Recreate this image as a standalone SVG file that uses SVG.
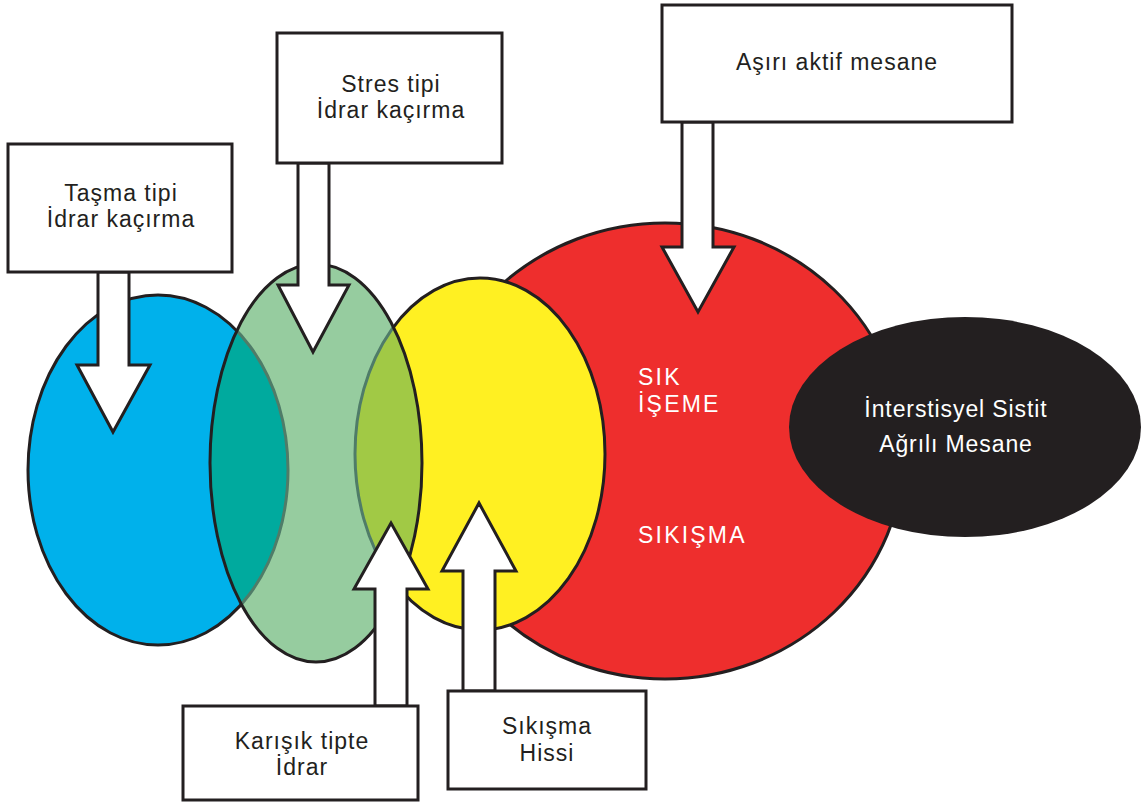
<svg xmlns="http://www.w3.org/2000/svg" width="1141" height="802" viewBox="0 0 1141 802">
<style>
.ol{stroke:#231f20;stroke-width:3}
.box{fill:#fff;stroke:#231f20;stroke-width:3}
.arr{fill:#fff;stroke:#231f20;stroke-width:3;stroke-linejoin:miter}
.t{font-family:"Liberation Sans",Arial,sans-serif;font-size:23px;letter-spacing:1px;fill:#231f20;text-anchor:middle}
.w{font-family:"Liberation Sans",Arial,sans-serif;font-size:23px;letter-spacing:2.2px;fill:#fff}
.wc{font-family:"Liberation Sans",Arial,sans-serif;font-size:23px;letter-spacing:0.9px;fill:#fff;text-anchor:middle}
.inner{fill:none;stroke:#4f7c68;stroke-width:3}
</style>
<defs>
<clipPath id="cg"><ellipse cx="316" cy="463" rx="106" ry="199"/></clipPath>
</defs>
<g id="red"><ellipse class="ol" cx="665" cy="451" rx="239" ry="228" fill="#ee2e2d"/>
<text class="w" x="638" y="385">SIK</text>
<text class="w" x="638" y="412">İŞEME</text>
<text class="w" x="638" y="543">SIKIŞMA</text>
</g>
<g id="ic"><ellipse cx="965" cy="427" rx="176" ry="110" fill="#231f20"/>
<text class="wc" x="956" y="417">İnterstisyel Sistit</text>
<text class="wc" x="956" y="452">Ağrılı Mesane</text>
</g>
<g id="blue"><ellipse class="ol" cx="158" cy="470" rx="130" ry="175" fill="#00b1eb"/></g>
<g id="yellow"><ellipse class="ol" cx="480" cy="454" rx="125" ry="176" fill="#fff022"/></g>
<g id="green">
<ellipse cx="316" cy="463" rx="106" ry="199" fill="#96cc9f"/>
<g clip-path="url(#cg)">
<ellipse cx="158" cy="470" rx="130" ry="175" fill="#00aa9e"/>
<ellipse cx="480" cy="454" rx="125" ry="176" fill="#a1c945"/>
<ellipse class="inner" cx="158" cy="470" rx="130" ry="175"/>
<ellipse class="inner" cx="480" cy="454" rx="125" ry="176"/>
</g>
<ellipse cx="316" cy="463" rx="106" ry="199" fill="none" class="ol"/>
</g>
<g id="connectors">
<polygon class="arr" points="98,272 129,272 129,365 150,365 113,432 77,365 98,365"/>
<polygon class="arr" points="298,163 329,163 329,285 349,285 313,352 278,285 298,285"/>
<polygon class="arr" points="682,122 713,122 713,247 734,247 698,312 662,247 682,247"/>
<polygon class="arr" points="375,706 407,706 407,589 428,589 391,523 354,589 375,589"/>
<polygon class="arr" points="463,691 495,691 495,571 516,571 479,503 442,571 463,571"/>
</g>
<g id="b-tasma"><rect class="box" x="8" y="144" width="224" height="128"/>
<text class="t" x="121" y="201">Taşma tipi</text>
<text class="t" x="121" y="227">İdrar kaçırma</text></g>
<g id="b-stres"><rect class="box" x="277" y="33" width="225" height="130"/>
<text class="t" x="391" y="92">Stres tipi</text>
<text class="t" x="391" y="118">İdrar kaçırma</text></g>
<g id="b-asiri"><rect class="box" x="662" y="5" width="350" height="117"/>
<text class="t" x="837" y="70">Aşırı aktif mesane</text></g>
<g id="b-karisik"><rect class="box" x="183" y="706" width="235" height="94"/>
<text class="t" x="302" y="749">Karışık tipte</text>
<text class="t" x="302" y="775">İdrar</text></g>
<g id="b-sikisma"><rect class="box" x="448" y="691" width="198" height="98"/>
<text class="t" x="547" y="734">Sıkışma</text>
<text class="t" x="547" y="761">Hissi</text></g>
</svg>
